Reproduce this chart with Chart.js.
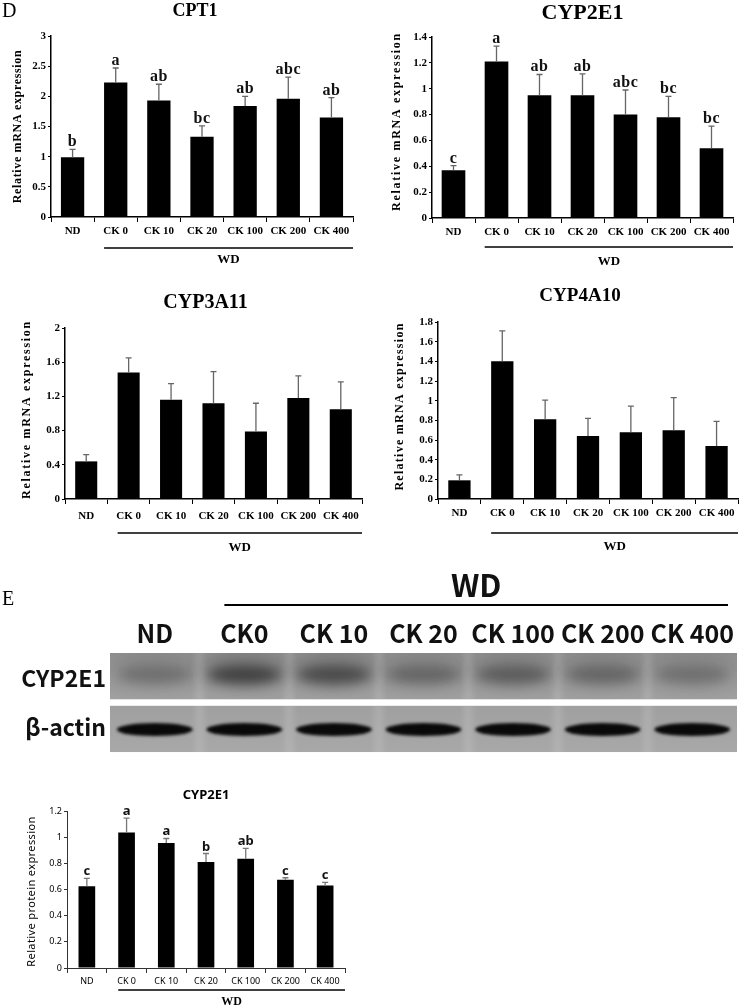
<!DOCTYPE html>
<html>
<head>
<meta charset="utf-8">
<title>CK hepatic CYP expression</title>
<script src="https://cdn.jsdelivr.net/npm/chart.js@4.4.1/dist/chart.umd.min.js"></script>
<style>
  html, body { margin: 0; padding: 0; background: #fff; }
  body { position: relative; width: 742px; height: 1007px; overflow: hidden; }
  canvas { position: absolute; }
</style>
</head>
<body>
<canvas id="cpt1"></canvas>
<canvas id="cyp2e1"></canvas>
<canvas id="cyp3a11"></canvas>
<canvas id="cyp4a10"></canvas>
<canvas id="blot"></canvas>
<canvas id="protein"></canvas>
<script>
// groups on the x axis of every bar panel
const groups = ["ND", "CK 0", "CK 10", "CK 20", "CK 100", "CK 200", "CK 400"];
const dietLabel = "WD";

// D: relative mRNA expression (mean and SD)
const cpt1Mean = [0.99, 2.23, 1.93, 1.33, 1.84, 1.96, 1.65];
const cpt1Sd = [0.13, 0.24, 0.27, 0.18, 0.16, 0.36, 0.33];
const cpt1Letters = ["b", "a", "ab", "bc", "ab", "abc", "ab"];

const cyp2e1Mean = [0.37, 1.21, 0.95, 0.95, 0.80, 0.78, 0.54];
const cyp2e1Sd = [0.035, 0.12, 0.16, 0.165, 0.19, 0.16, 0.17];
const cyp2e1Letters = ["c", "a", "ab", "ab", "abc", "bc", "bc"];

const cyp3a11Mean = [0.44, 1.48, 1.16, 1.12, 0.79, 1.18, 1.05];
const cyp3a11Sd = [0.08, 0.17, 0.19, 0.37, 0.33, 0.26, 0.32];

const cyp4a10Mean = [0.19, 1.40, 0.81, 0.64, 0.68, 0.70, 0.54];
const cyp4a10Sd = [0.055, 0.31, 0.195, 0.18, 0.265, 0.33, 0.25];

// E: western blot lanes and band darkness (0..1)
const blotLanes = ["ND", "CK0", "CK 10", "CK 20", "CK 100", "CK 200", "CK 400"];
const blotRows = ["CYP2E1", "β-actin"];
const cyp2e1Band = [0.35, 0.85, 0.75, 0.45, 0.55, 0.45, 0.35];
const actinBand = [1, 1, 1, 1, 1, 1, 1];
const bandDensity = [cyp2e1Band, actinBand];

// E: relative protein expression
const proteinMean = [0.625, 1.035, 0.955, 0.81, 0.835, 0.675, 0.63];
const proteinSd = [0.06, 0.11, 0.035, 0.065, 0.08, 0.015, 0.025];
const proteinLetters = ["c", "a", "a", "b", "ab", "c", "c"];

const serif = "'Liberation Serif', 'Times New Roman', serif";
const sans = "'Noto Sans', 'Open Sans', sans-serif";
const narrow = "'Noto Sans CJK KR', 'Noto Sans CJK SC', 'DejaVu Sans Condensed', sans-serif";

Chart.defaults.font.family = serif;

function place(id, left, top, w, h) {
    const c = document.getElementById(id);
    c.width = w;
    c.height = h;
    c.style.left = left + "px";
    c.style.top = top + "px";
    c.style.width = w + "px";
    c.style.height = h + "px";
    return c;
}

// vertical title with spacing stretched to the wanted length
function drawYTitle(ctx, text, font, cx, cy, length) {
    ctx.save();
    ctx.font = font;
    const w = ctx.measureText(text).width;
    ctx.letterSpacing = ((length - w) / (text.length - 1)).toFixed(2) + "px";
    ctx.translate(cx, cy);
    ctx.rotate(-Math.PI / 2);
    ctx.textAlign = "center";
    ctx.textBaseline = "middle";
    ctx.fillStyle = "#000";
    ctx.fillText(text, 0, 0);
    ctx.restore();
}

// error bars, significance letters, titles and the WD bracket
const deco = {
    id: "deco",
    afterDatasetsDraw(chart, args, o) {
        const ds = chart.data.datasets[0];
        const y = chart.scales.y;
        const ctx = chart.ctx;
        ctx.save();
        chart.getDatasetMeta(0).data.forEach((bar, i) => {
            const top = y.getPixelForValue(ds.data[i] + ds.errors[i]);
            ctx.strokeStyle = o.errColor;
            ctx.lineWidth = 1.3;
            ctx.beginPath();
            ctx.moveTo(bar.x, bar.y);
            ctx.lineTo(bar.x, top);
            ctx.moveTo(bar.x - o.cap, top);
            ctx.lineTo(bar.x + o.cap, top);
            ctx.stroke();
            if (ds.letters) {
                ctx.fillStyle = "#111";
                ctx.font = o.letterFont;
                ctx.letterSpacing = o.letterSpacing;
                ctx.textAlign = "center";
                ctx.textBaseline = "alphabetic";
                ctx.fillText(ds.letters[i], bar.x, top - 3);
            }
        });
        ctx.restore();
    },
    afterDraw(chart, args, o) {
        const ctx = chart.ctx;
        const a = chart.chartArea;
        const bar1 = chart.getDatasetMeta(0).data[1];
        ctx.save();
        ctx.fillStyle = "#000";
        ctx.textAlign = "center";
        ctx.textBaseline = "middle";
        ctx.font = o.titleFont;
        ctx.fillText(o.title, (a.left + a.right) / 2 + o.titleDx, o.titleY);

        drawYTitle(ctx, o.yTitle, o.yTitleFont, o.yTitleX, (a.top + a.bottom) / 2 + o.yTitleDy, o.yTitleLen);

        const x0 = bar1.x - bar1.width / 2;
        const x1 = a.right;
        ctx.strokeStyle = "#000";
        ctx.lineWidth = 1.3;
        ctx.beginPath();
        ctx.moveTo(x0, o.wdLineY);
        ctx.lineTo(x1, o.wdLineY);
        ctx.stroke();
        ctx.font = o.wdFont;
        ctx.fillText(dietLabel, (x0 + x1) / 2, o.wdTextY);

        if (o.panel) {
            ctx.textAlign = "left";
            ctx.font = "20px " + serif;
            ctx.fillText(o.panel, 2, o.panelY);
        }
        ctx.restore();
    }
};

function barChart(id, p) {
    const c = place(id, p.left, p.top, p.w, p.h);
    return new Chart(c, {
        type: "bar",
        data: {
            labels: groups,
            datasets: [{
                data: p.mean,
                errors: p.sd,
                letters: p.letters,
                backgroundColor: "#000",
                borderWidth: 0,
                categoryPercentage: 1,
                barPercentage: p.barPct
            }]
        },
        options: {
            responsive: false,
            animation: false,
            events: [],
            layout: { padding: { left: 0, top: p.area.top, right: p.w - p.area.right, bottom: 0 } },
            plugins: {
                legend: { display: false },
                tooltip: { enabled: false },
                deco: p.deco
            },
            scales: {
                x: {
                    offset: true,
                    grid: { offset: true, drawOnChartArea: false, tickLength: 5, color: p.axisColor, lineWidth: 1 },
                    border: { color: p.axisColor, width: p.axisWidth },
                    ticks: { color: "#000", font: p.catFont, padding: p.catPad, maxRotation: 0, minRotation: 0, autoSkip: false },
                    afterFit: s => { s.height = p.h - p.area.bottom; }
                },
                y: {
                    min: 0,
                    max: p.max,
                    grid: { drawOnChartArea: false, tickLength: 3, color: p.axisColor, lineWidth: 1 },
                    border: { color: p.axisColor, width: p.axisWidth },
                    ticks: { stepSize: p.step, color: "#000", font: p.tickFont, padding: 2,
                        callback: v => String(+v.toFixed(2)) },
                    afterFit: s => { s.width = p.area.left; }
                }
            }
        },
        plugins: [deco]
    });
}

const serifCat = { family: serif, size: 11, weight: "bold" };
const serifTick = { family: serif, size: 11, weight: "bold" };
const mrnaTitle = "Relative mRNA expression";

function mrnaDeco(extra) {
    return Object.assign({
        errColor: "#666",
        cap: 3,
        letterFont: "bold 16px " + serif,
        letterSpacing: "0.5px",
        titleDx: 0,
        yTitle: mrnaTitle,
        yTitleFont: "bold 12px " + serif,
        yTitleDy: 0,
        wdFont: "bold 13px " + serif,
        panel: ""
    }, extra);
}

barChart("cpt1", {
    left: 0, top: 0, w: 370, h: 285,
    area: { left: 51, top: 36, right: 353, bottom: 217 },
    mean: cpt1Mean, sd: cpt1Sd, letters: cpt1Letters,
    max: 3, step: 0.5, barPct: 0.54,
    axisColor: "#000", axisWidth: 1.5,
    catFont: serifCat, catPad: 3, tickFont: serifTick,
    deco: mrnaDeco({ title: "CPT1", titleFont: "bold 18px " + serif, titleY: 11, titleDx: -7,
        yTitleX: 18, yTitleLen: 153, wdLineY: 248, wdTextY: 260, panel: "D", panelY: 12 })
});

barChart("cyp2e1", {
    left: 370, top: 0, w: 372, h: 285,
    area: { left: 62, top: 37, right: 363, bottom: 218 },
    mean: cyp2e1Mean, sd: cyp2e1Sd, letters: cyp2e1Letters,
    max: 1.4, step: 0.2, barPct: 0.55,
    axisColor: "#000", axisWidth: 1.5,
    catFont: serifCat, catPad: 2.5, tickFont: serifTick,
    deco: mrnaDeco({ title: "CYP2E1", titleFont: "bold 22px " + serif, titleY: 13,
        yTitleX: 27, yTitleLen: 177, yTitleDy: -6, wdLineY: 247, wdTextY: 262 })
});

barChart("cyp3a11", {
    left: 0, top: 288, w: 370, h: 272,
    area: { left: 65, top: 40, right: 362, bottom: 211 },
    mean: cyp3a11Mean, sd: cyp3a11Sd, letters: null,
    max: 2, step: 0.4, barPct: 0.52,
    axisColor: "#000", axisWidth: 1.5,
    catFont: serifCat, catPad: 5.5, tickFont: serifTick,
    deco: mrnaDeco({ title: "CYP3A11", titleFont: "bold 20px " + serif, titleY: 15, titleDx: -8,
        yTitleX: 27, yTitleLen: 177, yTitleDy: -4, wdLineY: 245, wdTextY: 260 })
});

barChart("cyp4a10", {
    left: 370, top: 288, w: 372, h: 272,
    area: { left: 68, top: 34, right: 368, bottom: 211 },
    mean: cyp4a10Mean, sd: cyp4a10Sd, letters: null,
    max: 1.8, step: 0.2, barPct: 0.52,
    axisColor: "#000", axisWidth: 1.5,
    catFont: serifCat, catPad: 3, tickFont: serifTick,
    deco: mrnaDeco({ title: "CYP4A10", titleFont: "bold 19px " + serif, titleY: 8, titleDx: -8,
        yTitleX: 30, yTitleLen: 167, yTitleDy: -4, wdLineY: 245, wdTextY: 259 })
});

barChart("protein", {
    left: 0, top: 775, w: 742, h: 232,
    area: { left: 67, top: 36, right: 345, bottom: 193 },
    mean: proteinMean, sd: proteinSd, letters: proteinLetters,
    max: 1.2, step: 0.2, barPct: 0.42,
    axisColor: "#333", axisWidth: 1,
    catFont: { family: sans, size: 9 }, catPad: 3.5, tickFont: { family: sans, size: 9 },
    deco: {
        errColor: "#777", cap: 3,
        letterFont: "bold 13px " + sans, letterSpacing: "0px",
        title: "CYP2E1", titleFont: "bold 13px " + sans, titleY: 20, titleDx: 0,
        yTitle: "Relative protein expression", yTitleFont: "11px " + sans,
        yTitleX: 32, yTitleLen: 150, yTitleDy: 2,
        wdFont: "bold 12px " + serif, wdLineY: 215, wdTextY: 227, panel: ""
    }
});

// western blot drawn on the category grid of lanes x rows
const blotPlugin = {
    id: "blotDraw",
    beforeDatasetsDraw(chart) {
        const ctx = chart.ctx;
        const a = chart.chartArea;
        const xs = chart.scales.x;
        const ys = chart.scales.y;
        const rowH = (a.bottom - a.top) / blotRows.length;
        const laneW = (a.right - a.left) / blotLanes.length;
        const looks = [
            { top: "#8f8f8f", bot: "#a0a0a0", band: "25,25,25", rx: 37, ry: 9, dy: 22, blur: 6, alpha: 0.72 },
            { top: "#a0a0a0", bot: "#a8a8a8", band: "4,4,4", rx: 38, ry: 6.5, dy: 24, blur: 1.6, alpha: 0.97 }
        ];
        blotRows.forEach((row, r) => {
            const lk = looks[r];
            const yc = ys.getPixelForValue(r);
            const top = yc - rowH / 2 + (r > 0 ? 3 : 0);
            const bot = yc + rowH / 2 - (r < blotRows.length - 1 ? 3 : 0);
            ctx.save();
            ctx.beginPath();
            ctx.rect(a.left, top, a.right - a.left, bot - top);
            ctx.clip();
            const g = ctx.createLinearGradient(0, top, 0, bot);
            g.addColorStop(0, lk.top);
            g.addColorStop(1, lk.bot);
            ctx.fillStyle = g;
            ctx.fillRect(a.left, top, a.right - a.left, bot - top);

            ctx.filter = "blur(3px)";
            ctx.fillStyle = "rgba(255,255,255,0.14)";
            for (let k = 1; k < blotLanes.length; k++) {
                ctx.fillRect(a.left + k * laneW - 4, top - 6, 8, bot - top + 12);
            }

            bandDensity[r].forEach((d, i) => {
                const x = xs.getPixelForValue(i);
                if (r === 0) {
                    ctx.filter = "blur(9px)";
                    ctx.fillStyle = "rgba(40,40,40," + (0.28 * d).toFixed(3) + ")";
                    ctx.beginPath();
                    ctx.ellipse(x, top + 16, 42, 17, 0, 0, Math.PI * 2);
                    ctx.fill();
                }
                ctx.filter = "blur(" + lk.blur + "px)";
                ctx.fillStyle = "rgba(" + lk.band + "," + (lk.alpha * d).toFixed(3) + ")";
                ctx.beginPath();
                ctx.ellipse(x, top + lk.dy, lk.rx, lk.ry, 0, 0, Math.PI * 2);
                ctx.fill();
            });
            ctx.restore();
        });
    },
    afterDraw(chart) {
        const ctx = chart.ctx;
        const a = chart.chartArea;
        const xs = chart.scales.x;
        const x0 = xs.getPixelForValue(1) - 20;
        const x1 = a.right - 9;
        ctx.save();
        ctx.strokeStyle = "#000";
        ctx.lineWidth = 2;
        ctx.beginPath();
        ctx.moveTo(x0, 45);
        ctx.lineTo(x1, 45);
        ctx.stroke();
        ctx.fillStyle = "#111";
        ctx.textAlign = "center";
        ctx.textBaseline = "middle";
        ctx.font = "bold 31px " + narrow;
        ctx.fillText(dietLabel, (x0 + x1) / 2, 25);
        ctx.textAlign = "left";
        ctx.fillStyle = "#000";
        ctx.font = "20px " + serif;
        ctx.fillText("E", 2, 40);
        ctx.restore();
    }
};

new Chart(place("blot", 0, 560, 742, 210), {
    type: "bar",
    data: { labels: blotLanes, datasets: [] },
    options: {
        responsive: false,
        animation: false,
        events: [],
        layout: { padding: { left: 0, top: 0, right: 5, bottom: 11 } },
        plugins: { legend: { display: false }, tooltip: { enabled: false } },
        scales: {
            x: {
                type: "category",
                position: "top",
                offset: true,
                grid: { display: false, drawTicks: false },
                border: { display: false },
                ticks: { color: "#111", font: { family: narrow, size: 25, weight: "bold" }, padding: 5,
                    maxRotation: 0, minRotation: 0, autoSkip: false },
                afterFit: s => { s.height = 93; }
            },
            y: {
                type: "category",
                labels: blotRows,
                offset: true,
                grid: { display: false, drawTicks: false },
                border: { display: false },
                ticks: { color: "#111", font: { family: narrow, size: 23, weight: "bold" }, padding: 4 },
                afterFit: s => { s.width = 110; }
            }
        }
    },
    plugins: [blotPlugin]
});
</script>
</body>
</html>
